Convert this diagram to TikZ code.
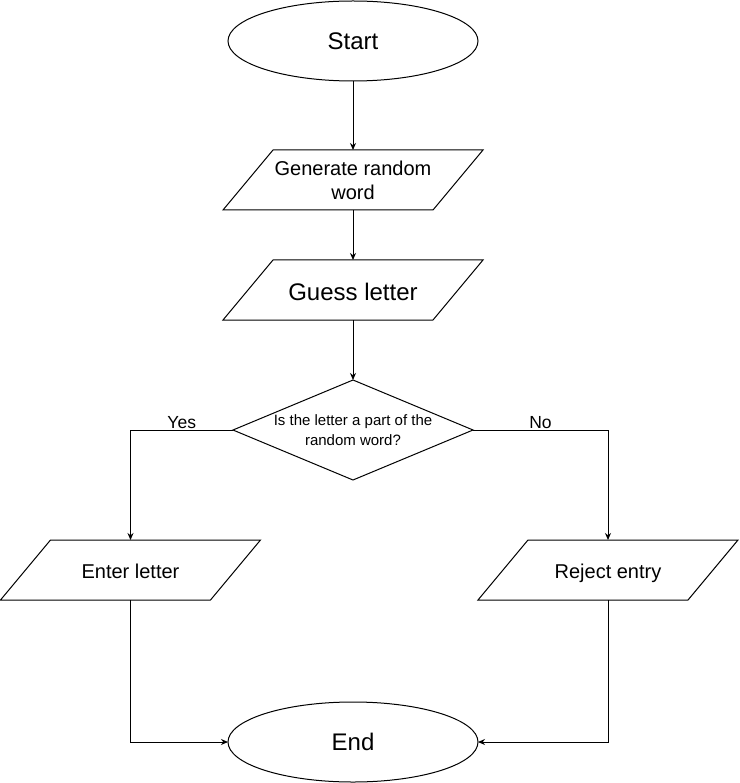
\documentclass[tikz,border=0pt]{standalone}
\usepackage{fontspec}
\setmainfont{Liberation Sans}
\usetikzlibrary{shapes.geometric,arrows.meta}
\tikzset{
	terminal/.style={ellipse, draw, line width=1pt, minimum width=250pt, minimum height=80pt, inner sep=0pt, outer sep=0pt, font=\fontsize{24}{28}\selectfont},
	inout/.style={rectangle, minimum width=260pt, minimum height=60pt, inner sep=0pt, outer sep=0pt, align=center, font=\fontsize{20}{24}\selectfont},
	oneline/.style={text height=18.3pt, text depth=2pt},
	decision/.style={diamond, draw, line width=1pt, aspect=2.4, minimum width=240pt, minimum height=100pt, inner sep=0pt, outer sep=0pt, align=center, font=\fontsize{15}{20}\selectfont},
	flow/.style={line width=1pt, -{Stealth[length=7pt,width=6pt]}},
	branch/.style={above, inner sep=1pt, font=\fontsize{17.5}{20}\selectfont}
}

\begin{document}
\begin{tikzpicture}[x=1pt, y=-1pt]
			%%%%% START %%%%%
			
			\useasboundingbox (0, 0) rectangle (739, 783);
			
			\node[terminal] (start) at (353, 41) {Start};
			\node[inout] (generate) at (353, 180) {Generate random\\word};
			\node[inout, text height=25.2pt, text depth=4pt, font=\fontsize{24}{28}\selectfont] (guess) at (353, 290) {Guess letter};
			\node[decision] (check) at (353, 430) {Is the letter a part of the\\random word?};
			
			\node[inout, oneline] (enter) at (130.5, 570) {Enter letter};
			\node[inout, oneline] (reject) at (608, 570) {Reject entry};
			
			\node[terminal] (end) at (353, 742) {End};
			
			% parallelogram outlines, slanted by 50
			\foreach \io in {generate, guess, enter, reject}
				\draw[line width=1pt] (\io.south west) -- ([xshift=50pt]\io.north west) -- (\io.north east) -- ([xshift=-50pt]\io.south east) -- cycle;
			
			\draw[flow] (start) -- (generate);
			\draw[flow] (generate) -- (guess);
			\draw[flow] (guess) -- (check);
			
			\draw[flow] (check.west) -| node[branch, pos=0.25] {Yes} (enter.north);
			\draw[flow] (check.east) -| node[branch, pos=0.25] {No} (reject.north);
			
			\draw[flow] (enter.south) |- (end.west);
			\draw[flow] (reject.south) |- (end.east);
			
			%%%%% END %%%%%
\end{tikzpicture}
\end{document}
